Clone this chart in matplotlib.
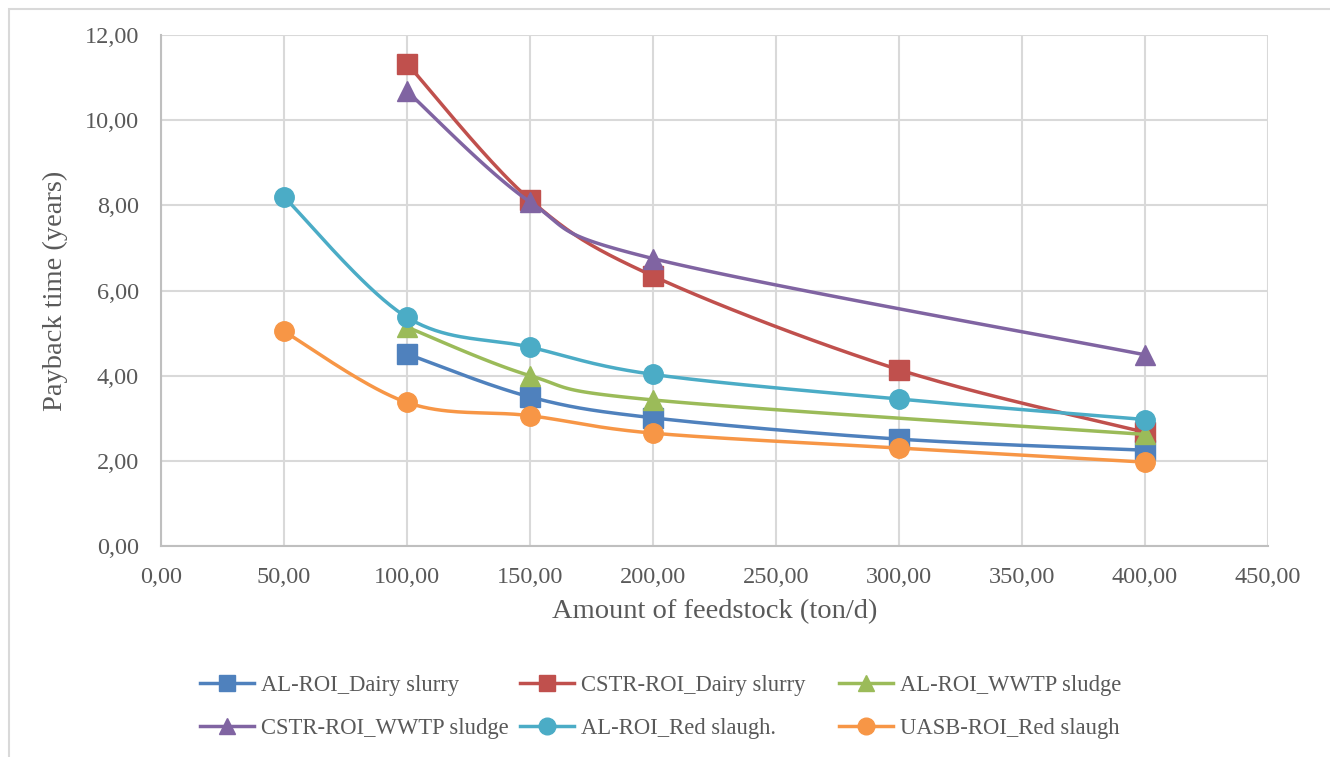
import numpy as np
import matplotlib
matplotlib.use("Agg")
import matplotlib.pyplot as plt
from matplotlib.lines import Line2D
from matplotlib.patches import Rectangle
from matplotlib.ticker import FuncFormatter

# Payback time (years) versus feedstock amount (ton/d)
al_dairy_x = [100, 150, 200, 300, 400]
al_dairy_y = [4.51, 3.50, 3.01, 2.51, 2.25]

cstr_dairy_x = [100, 150, 200, 300, 400]
cstr_dairy_y = [11.33, 8.13, 6.34, 4.14, 2.67]

al_wwtp_x = [100, 150, 200, 400]
al_wwtp_y = [5.14, 4.00, 3.43, 2.62]

cstr_wwtp_x = [100, 150, 200, 400]
cstr_wwtp_y = [10.68, 8.08, 6.75, 4.49]

al_red_x = [50, 100, 150, 200, 300, 400]
al_red_y = [8.20, 5.37, 4.67, 4.03, 3.45, 2.97]

uasb_red_x = [50, 100, 150, 200, 300, 400]
uasb_red_y = [5.04, 3.37, 3.06, 2.65, 2.30, 1.97]

series = [
    ("AL-ROI_Dairy slurry", al_dairy_x, al_dairy_y, "#4F81BD", "s"),
    ("CSTR-ROI_Dairy slurry", cstr_dairy_x, cstr_dairy_y, "#C0504D", "s"),
    ("AL-ROI_WWTP sludge", al_wwtp_x, al_wwtp_y, "#9BBB59", "^"),
    ("CSTR-ROI_WWTP sludge", cstr_wwtp_x, cstr_wwtp_y, "#8064A2", "^"),
    ("AL-ROI_Red slaugh.", al_red_x, al_red_y, "#4BACC6", "o"),
    ("UASB-ROI_Red slaugh", uasb_red_x, uasb_red_y, "#F79646", "o"),
]

TEXT = "#595959"
GRID = "#D9D9D9"
FONT = "Liberation Serif"


def smooth(x, y, n=40):
    """Catmull-Rom style Bezier smoothing through every point."""
    p = np.column_stack([x, y]).astype(float)
    # work in normalised units so the curve shape follows the axes scaling
    scale = np.array([450.0 / 1107.0, 12.0 / 511.0])
    p = p / scale
    out = [p[0]]
    t = np.linspace(0, 1, n)[1:, None]
    for i in range(len(p) - 1):
        p0 = p[i - 1] if i > 0 else p[i]
        p1, p2 = p[i], p[i + 1]
        p3 = p[i + 2] if i + 2 < len(p) else p[i + 1]
        c1 = p1 + (p2 - p0) / 6.0
        c2 = p2 - (p3 - p1) / 6.0
        seg = ((1 - t) ** 3) * p1 + 3 * ((1 - t) ** 2) * t * c1 \
            + 3 * (1 - t) * t ** 2 * c2 + t ** 3 * p2
        out.extend(seg)
    out = np.array(out) * scale
    return out[:, 0], out[:, 1]


W, H = 1330, 757
fig = plt.figure(figsize=(W / 100, H / 100), dpi=100)
fig.patches.append(Rectangle((9 / W, -0.1), 1.2, 1 - 9 / H + 0.1,
                             transform=fig.transFigure, fill=False,
                             edgecolor=GRID, linewidth=1.5))

ax = fig.add_axes([161 / W, 1 - 546 / H, 1107 / W, 511 / H])

handles = []
for label, xs, ys, color, marker in series:
    sx, sy = smooth(xs, ys)
    ax.plot(sx, sy, color=color, linewidth=2.5, solid_capstyle="round",
            zorder=3)
    ax.plot(xs, ys, linestyle="none", marker=marker, markersize=14,
            color=color, markeredgecolor=color, zorder=3)
    handles.append(Line2D([], [], color=color, linewidth=2.5, marker=marker,
                          markersize=12, label=label))

ax.set_xlim(0, 450)
ax.set_ylim(0, 12)
ax.set_xticks(np.arange(0, 451, 50))
ax.set_yticks(np.arange(0, 12.1, 2))
fmt = FuncFormatter(lambda v, _: f"{v:.2f}".replace(".", ","))
ax.xaxis.set_major_formatter(fmt)
ax.yaxis.set_major_formatter(fmt)
ax.grid(True, color=GRID, linewidth=1.5, zorder=0)
ax.set_axisbelow(True)
for side in ("top", "right"):
    ax.spines[side].set_visible(False)
for side in ("left", "bottom"):
    ax.spines[side].set_color("#BFBFBF")
    ax.spines[side].set_linewidth(1.5)
ax.tick_params(length=0, labelsize=17.5, labelcolor=TEXT)
ax.tick_params(axis="x", pad=15)
ax.tick_params(axis="y", pad=16)
for lab in ax.get_xticklabels() + ax.get_yticklabels():
    lab.set_fontfamily(FONT)

ax.set_xlabel("Amount of feedstock (ton/d)", fontsize=20.5, color=TEXT,
              fontfamily=FONT, labelpad=8)
ax.set_ylabel("Payback time (years)", fontsize=20.5, color=TEXT,
              fontfamily=FONT, labelpad=12)

# three equal-width legend columns, filled row by row
col_x = [200, 520, 839]
for c in range(3):
    pair = [handles[c], handles[c + 3]]
    leg = fig.legend(pair, [h.get_label() for h in pair],
                     loc="upper left", bbox_to_anchor=(col_x[c] / W, 1 - 675 / H),
                     frameon=False, handlelength=2.4, handletextpad=0.3,
                     labelspacing=0.95, borderpad=0, borderaxespad=0,
                     prop={"family": FONT, "size": 16.3})
    for t in leg.get_texts():
        t.set_color(TEXT)

fig.savefig("out.png", dpi=100)
